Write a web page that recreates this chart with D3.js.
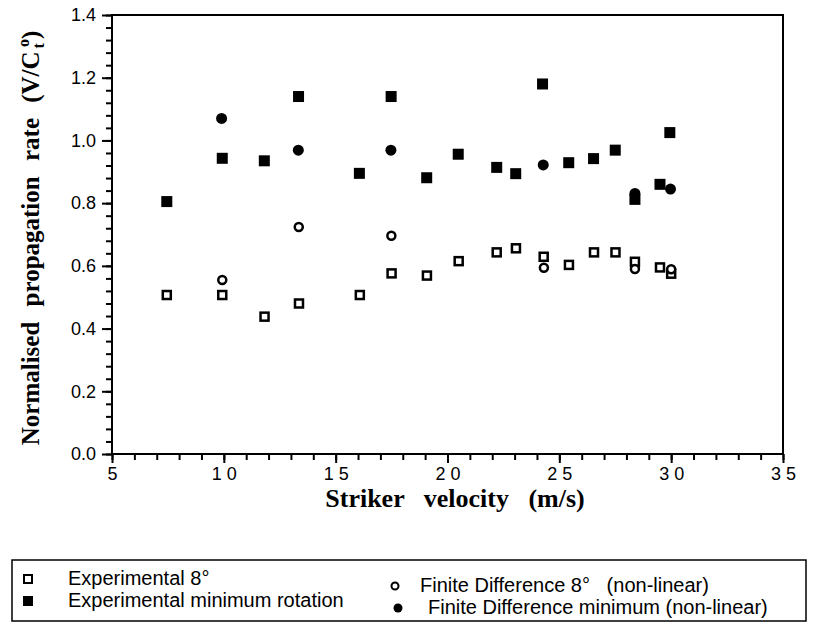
<!DOCTYPE html>
<html>
<head>
<meta charset="utf-8">
<script src="https://cdn.jsdelivr.net/npm/d3@7"></script>
<style>
  body { margin: 0; background: #fff; }
  svg { display: block; }
  .tick text { font-family: "Liberation Sans", Arial, sans-serif; }
</style>
</head>
<body>
<div id="chart"></div>
<script>
// experimental 8 degree (open squares)
let exp8X = [7.45, 9.93, 11.82, 13.36, 16.08, 17.5, 19.08, 20.5, 22.2, 23.06, 24.3, 25.43, 26.55, 27.51, 28.38, 29.5, 30.0]
let exp8Y = [0.507, 0.507, 0.438, 0.48, 0.507, 0.576, 0.569, 0.615, 0.643, 0.656, 0.629, 0.603, 0.643, 0.643, 0.613, 0.595, 0.575]
// experimental minimum rotation (filled squares)
let expMinX = [7.45, 9.93, 11.81, 13.34, 16.06, 17.48, 19.07, 20.48, 22.2, 23.05, 24.25, 25.42, 26.53, 27.5, 28.38, 29.5, 29.94]
let expMinY = [0.805, 0.943, 0.935, 1.14, 0.895, 1.14, 0.881, 0.956, 0.914, 0.894, 1.18, 0.929, 0.942, 0.969, 0.812, 0.86, 1.025]
// finite difference 8 degree (open circles)
let fd8X = [9.93, 13.35, 17.49, 24.31, 28.38, 30.0]
let fd8Y = [0.555, 0.724, 0.696, 0.594, 0.59, 0.589]
// finite difference minimum (filled circles)
let fdMinX = [9.9, 13.33, 17.47, 24.28, 28.38, 29.97]
let fdMinY = [1.07, 0.969, 0.969, 0.922, 0.831, 0.845]

let xTicks = [5, 10, 15, 20, 25, 30, 35]
let yTicks = [0.0, 0.2, 0.4, 0.6, 0.8, 1.0, 1.2, 1.4]

let margin = {top: 15, left: 112, right: 33, bottom: 169}
let W = 816, H = 623
let width = W - margin.left - margin.right
let height = H - margin.top - margin.bottom

let svg = d3.select('#chart').append('svg')
    .attr('width', W)
    .attr('height', H)

let g = svg.append('g')
    .attr('transform', `translate(${margin.left},${margin.top})`)

let x = d3.scaleLinear().domain([5, 35]).range([0, width])
let y = d3.scaleLinear().domain([0, 1.4]).range([height, 0])

// minor ticks
g.append('g')
    .attr('transform', `translate(0,${height})`)
    .call(d3.axisBottom(x).tickValues(d3.range(5, 35.01, 1)).tickSize(6).tickFormat(''))
    .call(a => a.select('.domain').remove())
g.append('g')
    .call(d3.axisLeft(y).tickValues(d3.range(0, 1.401, 0.04)).tickSize(6).tickFormat(''))
    .call(a => a.select('.domain').remove())

// major ticks + labels
let xAxis = g.append('g')
    .attr('transform', `translate(0,${height})`)
    .call(d3.axisBottom(x).tickValues(xTicks).tickSize(9).tickPadding(4).tickFormat(d3.format('d')))
xAxis.select('.domain').remove()
xAxis.selectAll('text')
    .attr('font-size', 18)
    .attr('letter-spacing', '5px')
    .attr('dx', '2.5px')

let yAxis = g.append('g')
    .call(d3.axisLeft(y).tickValues(yTicks).tickSize(10).tickPadding(6).tickFormat(d3.format('.1f')))
yAxis.select('.domain').remove()
yAxis.selectAll('text').attr('font-size', 18)

g.selectAll('.tick line').attr('stroke', '#000').attr('stroke-width', 2)

// frame
g.append('rect')
    .attr('width', width)
    .attr('height', height)
    .attr('fill', 'none')
    .attr('stroke', '#000')
    .attr('stroke-width', 2)

// markers
let sq = 10
g.selectAll('.exp8').data(exp8X).enter().append('rect')
    .attr('class', 'exp8')
    .attr('x', (d) => x(d) - (sq - 2) / 2)
    .attr('y', (d, i) => y(exp8Y[i]) - (sq - 2) / 2)
    .attr('width', sq - 2).attr('height', sq - 2)
    .attr('fill', '#fff').attr('stroke', '#000').attr('stroke-width', 2.5)

g.selectAll('.fd8').data(fd8X).enter().append('circle')
    .attr('class', 'fd8')
    .attr('cx', (d) => x(d))
    .attr('cy', (d, i) => y(fd8Y[i]))
    .attr('r', 4)
    .attr('fill', '#fff').attr('stroke', '#000').attr('stroke-width', 2.5)

g.selectAll('.expMin').data(expMinX).enter().append('rect')
    .attr('class', 'expMin')
    .attr('x', (d) => x(d) - 5.5)
    .attr('y', (d, i) => y(expMinY[i]) - 5.5)
    .attr('width', 11).attr('height', 11)
    .attr('fill', '#000')

g.selectAll('.fdMin').data(fdMinX).enter().append('circle')
    .attr('class', 'fdMin')
    .attr('cx', (d) => x(d))
    .attr('cy', (d, i) => y(fdMinY[i]))
    .attr('r', 5.5)
    .attr('fill', '#000')

// axis titles
svg.append('text')
    .attr('x', 455)
    .attr('y', 507)
    .attr('text-anchor', 'middle')
    .attr('font-family', '"Liberation Serif", "Times New Roman", serif')
    .attr('font-weight', 'bold')
    .attr('font-size', 26)
    .attr('word-spacing', '13px')
    .text('Striker velocity (m/s)')

let yt = svg.append('text')
    .attr('transform', `translate(39,238) rotate(-90)`)
    .attr('text-anchor', 'middle')
    .attr('font-family', '"Liberation Serif", "Times New Roman", serif')
    .attr('font-weight', 'bold')
    .attr('font-size', 25)
    .attr('word-spacing', '9px')
yt.append('tspan').text('Normalised propagation rate  (V/C')
yt.append('tspan').attr('font-size', 16).attr('dy', 5).attr('dx', 3).text('t')
yt.append('tspan').attr('font-size', 16).attr('dy', -15).attr('dx', -4).text('o')
yt.append('tspan').attr('dy', 10).text(')')

// legend
let lg = svg.append('g')
lg.append('rect')
    .attr('x', 12).attr('y', 560)
    .attr('width', 794).attr('height', 61)
    .attr('fill', 'none').attr('stroke', '#000').attr('stroke-width', 1.5)

let legendItems = [
    {label: 'Experimental 8°', sym: 'osq', lx: 28, ly: 579, tx: 68},
    {label: 'Experimental minimum rotation', sym: 'fsq', lx: 28, ly: 601, tx: 68},
    {label: 'Finite Difference 8°   (non-linear)', sym: 'oci', lx: 395, ly: 586, tx: 420},
    {label: 'Finite Difference minimum (non-linear)', sym: 'fci', lx: 398, ly: 608, tx: 428}
]
legendItems.forEach((d) => {
    if (d.sym === 'osq') {
        lg.append('rect').attr('x', d.lx - 4).attr('y', d.ly - 4).attr('width', 8).attr('height', 8)
            .attr('fill', '#fff').attr('stroke', '#000').attr('stroke-width', 2)
    } else if (d.sym === 'fsq') {
        lg.append('rect').attr('x', d.lx - 5).attr('y', d.ly - 5).attr('width', 10).attr('height', 10)
            .attr('fill', '#000')
    } else if (d.sym === 'oci') {
        lg.append('circle').attr('cx', d.lx).attr('cy', d.ly).attr('r', 3.5)
            .attr('fill', '#fff').attr('stroke', '#000').attr('stroke-width', 2)
    } else {
        lg.append('circle').attr('cx', d.lx).attr('cy', d.ly).attr('r', 4.5).attr('fill', '#000')
    }
    lg.append('text')
        .attr('x', d.tx).attr('y', d.ly + 6)
        .attr('font-family', '"Liberation Sans", Arial, sans-serif')
        .attr('font-size', 20)
        .attr('xml:space', 'preserve')
        .style('white-space', 'pre')
        .text(d.label)
})
</script>
</body>
</html>
